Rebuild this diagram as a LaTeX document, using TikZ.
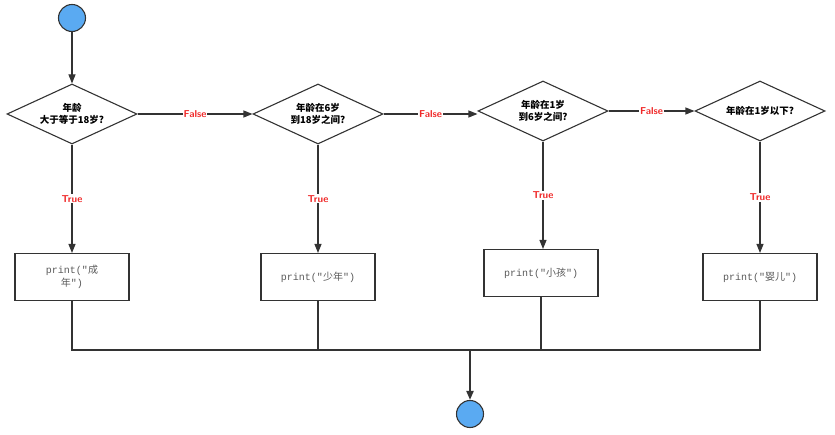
\documentclass[tikz,border=0pt]{standalone}
\usepackage{fontspec}
\usetikzlibrary{shapes.geometric,arrows.meta}
\newfontfamily\cjk{Noto Sans CJK SC}
\newfontfamily\mono{Liberation Mono}
\definecolor{lblue}{HTML}{5AAAF2}
\definecolor{lred}{HTML}{F02828}
\newcommand{\zh}[1]{{\cjk #1}}
\begin{document}
\begin{tikzpicture}[x=1pt,y=-1pt,
  line width=1.1pt, draw=black!80,
  dec/.style={diamond,draw,aspect=2.17,minimum width=130pt,minimum height=60pt,inner sep=0pt,align=center,font=\cjk\fontsize{9.5}{12}\selectfont\bfseries},
  box/.style={rectangle,draw,minimum width=114pt,minimum height=47pt,align=center,text=black!65,font=\mono\fontsize{10}{13}\selectfont,text width=100pt},
  circ/.style={circle,draw,fill=lblue,minimum size=27pt,inner sep=0pt},
  lab/.style={fill=white,text=lred,font=\sffamily\bfseries\fontsize{10}{12}\selectfont,inner sep=1pt},
  arr/.style={-{Triangle[length=9pt,width=7pt]},draw=black!80}]
\useasboundingbox (0,0) rectangle (835,435);
\node[circ] (s) at (72,18) {};
\node[dec] (d1) at (72,114) {年龄\\大于等于18岁?};
\node[dec] (d2) at (318,114) {年龄在6岁\\到18岁之间?};
\node[dec] (d3) at (543,111) {年龄在1岁\\到6岁之间?};
\node[dec] (d4) at (760,111) {年龄在1岁以下?};
\node[box] (b1) at (72,277) {print("\zh{成}\\\zh{年}")};
\node[box] (b2) at (318,277) {print("\zh{少年}")};
\node[box] (b3) at (541,273) {print("\zh{小孩}")};
\node[box] (b4) at (760,277) {print("\zh{婴儿}")};
\node[circ] (e) at (470,414) {};
\draw[arr] (s) -- (d1);
\draw[arr] (d1) -- node[lab]{False} (d2);
\draw[arr] (d2.east) -- node[lab]{False} (d3.west|-d2.east);
\draw[arr] (d3) -- node[lab]{False} (d4);
\foreach \i in {1,2,3,4}{\draw[arr] (d\i.south) -- node[lab]{True} (d\i.south|-b\i.north);}
\coordinate (m) at (470,350);
\draw (b1.south) |- (m) -| (b4.south);
\draw (b2.south) -- (b2.south|-m);
\draw (b3.south) -- (b3.south|-m);
\draw[arr,line width=2pt] (m) -- (e);
\end{tikzpicture}
\end{document}
